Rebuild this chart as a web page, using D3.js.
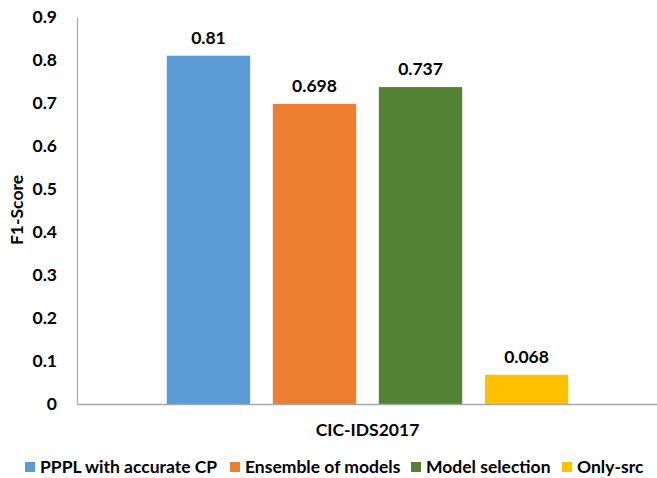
<!DOCTYPE html>
<html>
<head>
<meta charset="utf-8">
<script src="https://cdn.jsdelivr.net/npm/d3@7/dist/d3.min.js"></script>
<style>
  html, body { margin: 0; padding: 0; background: #fff; }
  svg text { font-family: Lato, "Open Sans", sans-serif; font-weight: bold; fill: #000; }
</style>
</head>
<body>
<svg id="chart" width="657" height="478"></svg>
<script>
// Data
const categories = ["CIC-IDS2017"];
const seriesNames = ["PPPL with accurate CP", "Ensemble of models", "Model selection", "Only-src"];
const f1Values = [0.81, 0.698, 0.737, 0.068];
const seriesColors = ["#5B9BD5", "#ED7D31", "#548235", "#FFC000"];
const yTicks = [0, 0.1, 0.2, 0.3, 0.4, 0.5, 0.6, 0.7, 0.8, 0.9];

const FONT = 17.5;
const svg = d3.select("#chart");
const plot = { left: 77, right: 658, top: 17, bottom: 404 };

const y = d3.scaleLinear().domain([0, 0.9]).range([plot.bottom, plot.top]);
const x0 = d3.scaleBand().domain(categories).range([plot.left, plot.right])
  .paddingInner(0).paddingOuter(0.185);
const x1 = d3.scaleBand().domain(seriesNames).range([0, x0.bandwidth()])
  .paddingInner(0.214).paddingOuter(0.107);

// Y axis
const yAxis = d3.axisLeft(y).tickValues(yTicks).tickSize(0).tickPadding(20)
  .tickFormat(d => d === 0 ? "0" : d3.format(".1f")(d));
const gy = svg.append("g").attr("transform", `translate(${plot.left},0)`).call(yAxis);
gy.select(".domain").attr("stroke", "#A6A6A6").attr("stroke-width", 1.2);
gy.selectAll("text").attr("font-size", FONT).attr("fill", "#000")
  .style("font-family", "Lato, 'Open Sans', sans-serif").style("font-weight", "bold");

// Bars
const rows = seriesNames.map((s, i) => ({ cat: categories[0], name: s, value: f1Values[i], color: seriesColors[i] }));
const gBars = svg.append("g");
gBars.selectAll("rect").data(rows).join("rect")
  .attr("x", d => x0(d.cat) + x1(d.name))
  .attr("width", x1.bandwidth())
  .attr("y", d => y(d.value))
  .attr("height", d => y(0) - y(d.value))
  .attr("fill", d => d.color);

// Value labels
gBars.selectAll("text").data(rows).join("text")
  .attr("x", d => x0(d.cat) + x1(d.name) + x1.bandwidth() / 2)
  .attr("y", d => y(d.value) - 12)
  .attr("text-anchor", "middle")
  .attr("font-size", FONT)
  .text(d => String(d.value));

// X axis
const xAxis = d3.axisBottom(x0).tickSize(0).tickPadding(20);
const gx = svg.append("g").attr("transform", `translate(0,${plot.bottom})`).call(xAxis);
gx.select(".domain").attr("stroke", "#A6A6A6").attr("stroke-width", 1.5);
gx.selectAll("text").attr("font-size", FONT).attr("fill", "#000")
  .style("font-family", "Lato, 'Open Sans', sans-serif").style("font-weight", "bold");

// Y axis title
svg.append("text")
  .attr("transform", "translate(23,210) rotate(-90)")
  .attr("text-anchor", "middle")
  .attr("font-size", FONT)
  .text("F1-Score");

// Legend
const legendX = [25, 230, 411, 562];
const lg = svg.append("g");
const items = lg.selectAll("g").data(rows).join("g")
  .attr("transform", (d, i) => `translate(${legendX[i]},462)`);
items.append("rect").attr("width", 10).attr("height", 10).attr("fill", d => d.color);
items.append("text").attr("x", 15).attr("y", 11).attr("font-size", FONT).text(d => d.name);
</script>
</body>
</html>
